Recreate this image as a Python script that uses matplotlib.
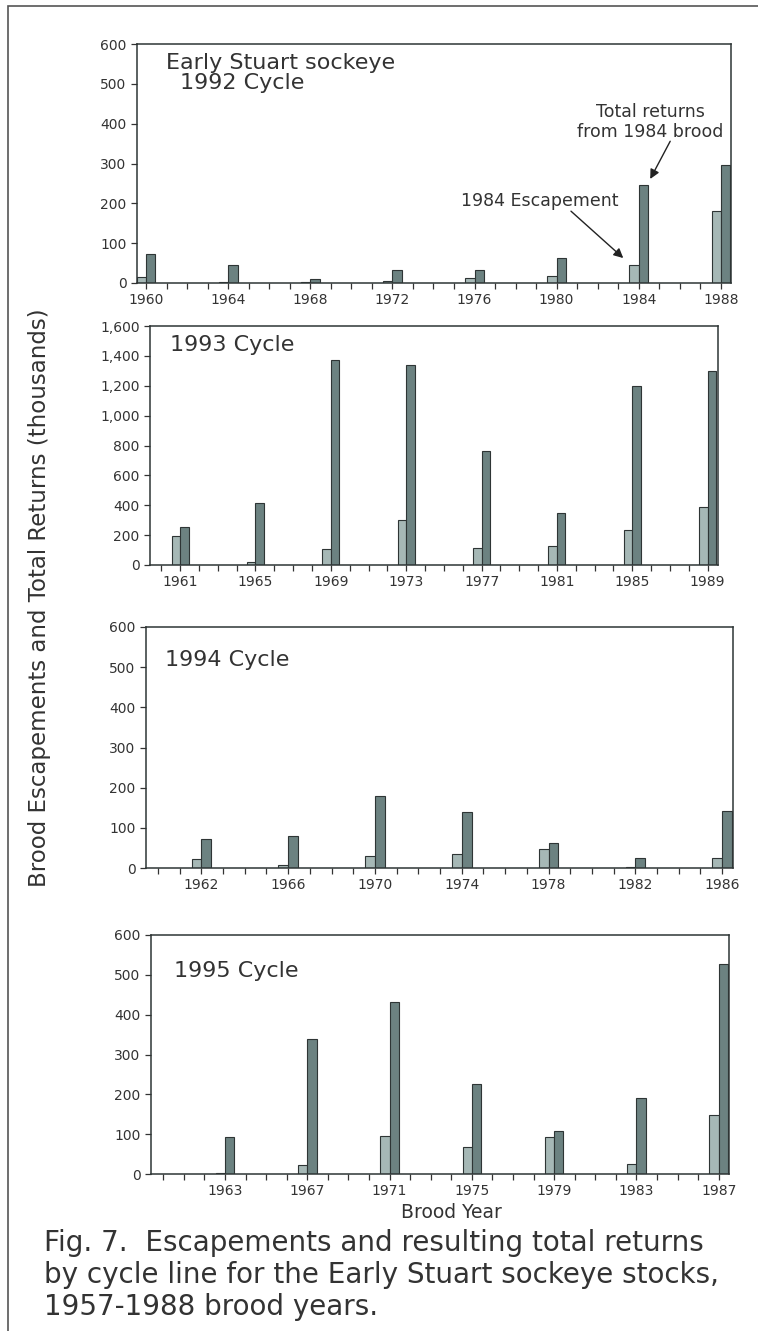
import numpy as np
import matplotlib
matplotlib.use("Agg")
from matplotlib import pyplot as plt
from matplotlib.patches import Rectangle
from matplotlib.ticker import FuncFormatter

# brood years and values (thousands) for each cycle line
yrs92 = [1960, 1964, 1968, 1972, 1976, 1980, 1984, 1988]
esc92 = [15, 3, 2, 4, 12, 17, 46, 180]
ret92 = [72, 44, 10, 33, 32, 63, 246, 296]

yrs93 = [1961, 1965, 1969, 1973, 1977, 1981, 1985, 1989]
esc93 = [194, 22, 107, 299, 116, 127, 236, 385]
ret93 = [254, 417, 1375, 1341, 760, 350, 1196, 1299]

yrs94 = [1962, 1966, 1970, 1974, 1978, 1982, 1986]
esc94 = [22, 7, 29, 36, 47, 2, 26]
ret94 = [72, 80, 180, 139, 62, 25, 142]

yrs95 = [1963, 1967, 1971, 1975, 1979, 1983, 1987]
esc95 = [3, 23, 96, 67, 94, 25, 148]
ret95 = [94, 340, 432, 226, 108, 192, 528]

light = "#a6b8b6"
dark = "#6c8281"
edge = "#2e3535"
txt = "#333333"

plt.rcParams["font.family"] = ["DejaVu Sans"]

fig = plt.figure(figsize=(7.58, 13.31), dpi=100)
# frame round the figure (right and bottom edges run off the page)
fig.patches.append(Rectangle((8/758, -0.05), 1.1, 0.05 + 1 - 6/1331, transform=fig.transFigure,
                             fill=False, edgecolor="#555555", lw=1.2))

W = 0.45

def panel(rect, yrs, esc, ret, xlim, ymax, ystep):
    ax = fig.add_axes(rect)
    x = np.array(yrs, dtype=float)
    ax.bar(x - W/2, esc, W, color=light, edgecolor=edge, lw=0.8)
    ax.bar(x + W/2, ret, W, color=dark, edgecolor=edge, lw=0.8)
    ax.set_xlim(*xlim)
    ax.set_ylim(0, ymax)
    ax.set_yticks(np.arange(0, ymax + 1, ystep))
    ax.yaxis.set_major_formatter(FuncFormatter(lambda v, p: f"{int(v):,}"))
    ax.set_xticks(yrs)
    ax.set_xticks(np.arange(1960, int(xlim[1]) + 1), minor=True)
    ax.tick_params(axis="both", which="both", direction="out", length=4, width=0.9,
                   color=txt, labelcolor=txt, labelsize=10)
    for s in ax.spines.values():
        s.set_color(edge)
        s.set_linewidth(1.1)
    return ax

def title(ax, x, y, s):
    ax.text(x, y, s, transform=ax.transAxes, fontsize=16, color=txt, va="center", ha="left")

ax1 = panel([137/758, 1 - 283/1331, 594/758, 239/1331], yrs92, esc92, ret92,
            (1959.55, 1988.5), 600, 100)
title(ax1, 0.048, 0.92, "Early Stuart sockeye")
title(ax1, 0.072, 0.838, "1992 Cycle")
ax1.annotate("", xy=(1984.5, 255), xytext=(1985.6, 362),
             arrowprops=dict(arrowstyle="-|>", color="#222222", lw=1, mutation_scale=14))
ax1.text(1984.55, 405, "Total returns\nfrom 1984 brood", fontsize=12.5, color=txt,
         ha="center", va="center", linespacing=1.15)
ax1.annotate("", xy=(1983.35, 58), xytext=(1980.6, 185),
             arrowprops=dict(arrowstyle="-|>", color="#222222", lw=1, mutation_scale=14))
ax1.text(1979.2, 205, "1984 Escapement", fontsize=12.5, color=txt, ha="center", va="center")

ax2 = panel([150/758, 1 - 565/1331, 568/758, 239/1331], yrs93, esc93, ret93,
            (1959.4, 1989.55), 1600, 200)
title(ax2, 0.035, 0.92, "1993 Cycle")

ax3 = panel([146/758, 1 - 868/1331, 587/758, 241/1331], yrs94, esc94, ret94,
            (1959.45, 1986.5), 600, 100)
title(ax3, 0.032, 0.863, "1994 Cycle")

ax4 = panel([151/758, 1 - 1174/1331, 578/758, 239/1331], yrs95, esc95, ret95,
            (1959.4, 1987.5), 600, 100)
title(ax4, 0.04, 0.849, "1995 Cycle")
ax4.set_xlabel("Brood Year", fontsize=13.5, color=txt, labelpad=3)
ax4.xaxis.label.set_x(0.52)

fig.text(40/758, 1 - 598/1331, "Brood Escapements and Total Returns (thousands)",
         rotation=90, fontsize=16.5, color=txt, ha="center", va="center")

fig.text(44/758, 1 - 1275/1331,
         "Fig. 7.  Escapements and resulting total returns\n"
         "by cycle line for the Early Stuart sockeye stocks,\n"
         "1957-1988 brood years.",
         fontsize=20, color=txt, ha="left", va="center", linespacing=1.17)

fig.savefig("out.png", dpi=100)
